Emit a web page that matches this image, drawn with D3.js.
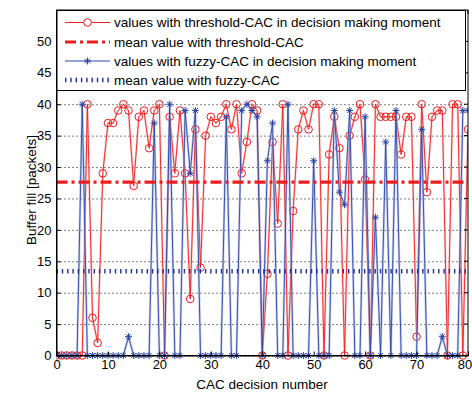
<!DOCTYPE html>
<html>
<head>
<meta charset="utf-8">
<script src="https://cdn.jsdelivr.net/npm/d3@7"></script>
<style>
  html, body { margin: 0; padding: 0; background: #ffffff; }
  svg { display: block; font-family: "Liberation Sans", Arial, sans-serif; }
</style>
</head>
<body>
<svg id="chart" width="472" height="394"></svg>
<script>
// ---- data ----
const decisionNumbers = d3.range(0, 81);
const thresholdValues = [
  0, 0, 0, 0, 0, 0, 40, 6, 2, 29,
  37, 37, 39, 40, 39, 27, 38, 39, 33, 39,
  40, 0, 38, 29, 39, 29, 9, 36, 14, 35,
  38, 37, 38, 40, 36, 40, 29, 34, 40, 39,
  0, 13, 34, 21, 40, 0, 23, 36, 39, 36,
  40, 40, 0, 32, 38, 33, 0, 35, 38, 40,
  28, 0, 40, 38, 38, 38, 38, 32, 38, 38,
  3, 40, 26, 38, 39, 39, 0, 40, 40, 0,
  36
];
const fuzzyValues = [
  0, 0, 0, 0, 0, 40, 0, 0, 0, 0,
  0, 0, 0, 0, 3, 0, 0, 0, 0, 37,
  0, 0, 40, 0, 0, 39, 29, 39, 0, 0,
  0, 0, 0, 38, 0, 0, 39, 40, 39, 38,
  0, 31, 37, 0, 0, 40, 0, 0, 0, 0,
  31, 0, 0, 0, 39, 26, 24, 39, 0, 0,
  38, 0, 22, 0, 34, 0, 39, 0, 0, 0,
  0, 36, 0, 0, 0, 3, 0, 0, 0, 39,
  39
];
const meanThreshold = 27.6;
const meanFuzzy = 13.4;
const xTicks = [0, 10, 20, 30, 40, 50, 60, 70, 80];
const yTicks = [0, 5, 10, 15, 20, 25, 30, 35, 40, 45, 50];
const legendLabels = [
  "values with threshold-CAC in decision making moment",
  "mean value with threshold-CAC",
  "values with fuzzy-CAC in decision making moment",
  "mean value with fuzzy-CAC"
];
const xLabel = "CAC decision number";
const yLabel = "Buffer fill [packets]";

(function () {
const svg = d3.select("#chart");
const mLeft = 56.5, mRight = 468, mTop = 10, mBottom = 355.5;
const x = d3.scaleLinear().domain([0, 80]).range([mLeft, mRight]);
const y = d3.scaleLinear().domain([0, 55]).range([mBottom, mTop]);

const RED = "#ee1c1c";
const BLUE = "#2a44a8";
const BLUE_LIGHT = "#9aaade";
const RED_LIGHT = "#f7a0a0";
const FONT = "'Liberation Sans', Arial, sans-serif";

svg.append("rect").attr("x", mLeft).attr("y", mTop)
  .attr("width", mRight - mLeft).attr("height", mBottom - mTop).attr("fill", "#fff");

// horizontal dotted grid
svg.append("g").selectAll("line").data(yTicks.concat([55])).join("line")
  .attr("x1", mLeft).attr("x2", mRight)
  .attr("y1", d => y(d) + 0.5).attr("y2", d => y(d) + 0.5)
  .attr("stroke", "#000").attr("stroke-width", 1)
  .attr("stroke-dasharray", "1,3");

svg.append("clipPath").attr("id", "clip")
  .append("rect").attr("x", mLeft).attr("y", mTop - 5)
  .attr("width", mRight - mLeft).attr("height", mBottom - mTop + 10);

const plot = svg.append("g").attr("clip-path", "url(#clip)");

const line = d3.line().x((d, i) => x(decisionNumbers[i])).y(d => y(d));

plot.append("path").datum(thresholdValues).attr("d", line)
  .attr("fill", "none").attr("stroke", RED_LIGHT).attr("stroke-width", 2.2)
  .attr("stroke-opacity", 0.5);
plot.append("path").datum(thresholdValues).attr("d", line)
  .attr("fill", "none").attr("stroke", RED).attr("stroke-width", 0.9);

plot.append("g").selectAll("circle").data(thresholdValues).join("circle")
  .attr("cx", (d, i) => x(decisionNumbers[i])).attr("cy", d => y(d))
  .attr("r", 3.8).attr("fill", "none").attr("stroke", RED).attr("stroke-width", 1);

plot.append("path").datum(fuzzyValues).attr("d", line)
  .attr("fill", "none").attr("stroke", BLUE_LIGHT).attr("stroke-width", 2.4)
  .attr("stroke-opacity", 0.55);
plot.append("path").datum(fuzzyValues).attr("d", line)
  .attr("fill", "none").attr("stroke", BLUE).attr("stroke-width", 0.9);

const starPath = "M-3.5,0L3.5,0M0,-3.5L0,3.5M-2.5,-2.5L2.5,2.5M-2.5,2.5L2.5,-2.5";
plot.append("g").selectAll("path").data(fuzzyValues).join("path")
  .attr("transform", (d, i) => `translate(${x(decisionNumbers[i])},${y(d)})`)
  .attr("d", starPath).attr("fill", "none").attr("stroke", BLUE).attr("stroke-width", 1);

// mean lines
plot.append("line").attr("x1", x(0)).attr("x2", x(80))
  .attr("y1", y(meanThreshold)).attr("y2", y(meanThreshold))
  .attr("stroke", RED).attr("stroke-width", 3.2)
  .attr("stroke-dasharray", "11,4,3,4");
plot.append("line").attr("x1", x(0)).attr("x2", x(80))
  .attr("y1", y(meanFuzzy)).attr("y2", y(meanFuzzy))
  .attr("stroke", "#1f2f9a").attr("stroke-width", 4.5)
  .attr("stroke-dasharray", "1.4,3.9");

// axes
const xAxis = d3.axisBottom(x).tickValues(xTicks).tickSize(-4).tickPadding(4);
const gx = svg.append("g").attr("transform", `translate(0,${mBottom})`).call(xAxis);
const yAxis = d3.axisLeft(y).tickValues(yTicks).tickSize(-4).tickPadding(5);
const gy = svg.append("g").attr("transform", `translate(${mLeft},0)`).call(yAxis);
[gx, gy].forEach(g => {
  g.selectAll("text").attr("font-size", 13).attr("fill", "#000")
    .attr("font-family", FONT);
  g.selectAll("line").attr("stroke", "#000");
  g.select(".domain").attr("stroke", "#000");
});
// keep the last x tick label inside the page
gx.selectAll(".tick text").filter(d => d === 80).attr("dx", -3.5);

svg.append("g").selectAll("line").data(yTicks).join("line")
  .attr("x1", mRight).attr("x2", mRight - 4)
  .attr("y1", d => y(d)).attr("y2", d => y(d)).attr("stroke", "#000");
svg.append("g").selectAll("line").data(xTicks).join("line")
  .attr("x1", d => x(d)).attr("x2", d => x(d))
  .attr("y1", mTop).attr("y2", mTop + 4).attr("stroke", "#000");

svg.append("rect").attr("x", mLeft).attr("y", mTop)
  .attr("width", mRight - mLeft).attr("height", mBottom - mTop)
  .attr("fill", "none").attr("stroke", "#000").attr("stroke-width", 1);

// labels
svg.append("text").attr("x", 262).attr("y", 389)
  .attr("text-anchor", "middle").attr("font-size", 13.5).attr("font-family", FONT).text(xLabel);
svg.append("text").attr("transform", `translate(35.5,190) rotate(-90)`)
  .attr("text-anchor", "middle").attr("font-size", 13.5).attr("font-family", FONT).text(yLabel);

// legend
const lg = svg.append("g");
lg.append("rect").attr("x", 57).attr("y", 10.5).attr("width", 408.5).attr("height", 80)
  .attr("fill", "#fff").attr("stroke", "#000").attr("stroke-width", 1);
const rows = [22.5, 42, 61, 80];
const lx1 = 65, lx2 = 110, ltx = 114;
legendLabels.forEach((t, i) => {
  const ry = rows[i];
  const g = lg.append("g");
  if (i === 0) {
    g.append("line").attr("x1", lx1).attr("x2", lx2).attr("y1", ry).attr("y2", ry)
      .attr("stroke", RED).attr("stroke-width", 1);
    g.append("circle").attr("cx", (lx1 + lx2) / 2).attr("cy", ry).attr("r", 3.8)
      .attr("fill", "#fff").attr("stroke", RED);
  } else if (i === 1) {
    g.append("line").attr("x1", lx1).attr("x2", lx2).attr("y1", ry).attr("y2", ry)
      .attr("stroke", RED).attr("stroke-width", 3.2).attr("stroke-dasharray", "11,4,3,4");
  } else if (i === 2) {
    g.append("line").attr("x1", lx1).attr("x2", lx2).attr("y1", ry).attr("y2", ry)
      .attr("stroke", "#6f86c8").attr("stroke-width", 1.4);
    g.append("path").attr("transform", `translate(${(lx1 + lx2) / 2},${ry})`)
      .attr("d", starPath).attr("stroke", BLUE).attr("fill", "none");
  } else {
    g.append("line").attr("x1", lx1).attr("x2", lx2).attr("y1", ry).attr("y2", ry)
      .attr("stroke", "#1f2f9a").attr("stroke-width", 4.5).attr("stroke-dasharray", "1.4,3.9");
  }
  g.append("text").attr("x", ltx).attr("y", ry + 4.5).attr("font-size", 13.5)
    .attr("font-family", FONT).attr("fill", "#000").text(t);
});
})();
</script>
</body>
</html>
